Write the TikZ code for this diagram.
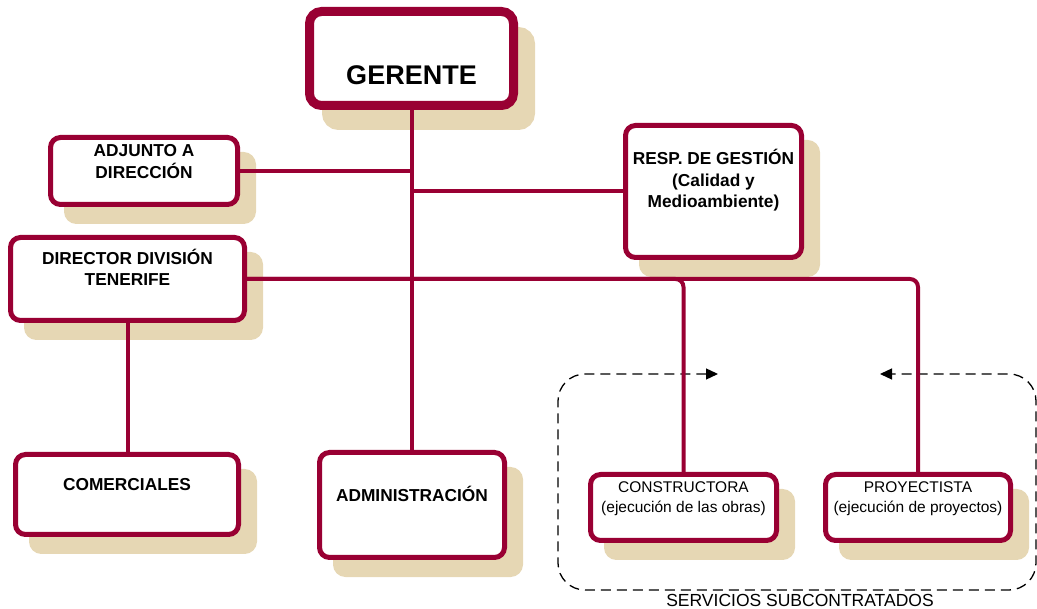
\documentclass[tikz,border=0pt]{standalone}
\usepackage{fontspec}
\setmainfont{Liberation Sans}
\usetikzlibrary{shadows,arrows.meta}
\definecolor{crim}{HTML}{990033}
\definecolor{shad}{HTML}{E6D7B4}
\newcommand{\boxtext}[4]{\parbox[c][#2pt][t]{#1pt}{\centering\rule{0pt}{#3pt}#4\par}}
\begin{document}
\begin{tikzpicture}[x=1pt,y=-1pt,
  box/.style={draw=crim, line width=5pt, rounded corners=10pt, fill=white, inner sep=0pt,
    font=\fontsize{17.3}{21.5}\selectfont\bfseries,
    general shadow={fill=shad, draw=shad, line width=5pt, rounded corners=10pt, shadow xshift=16pt, shadow yshift=-17pt}},
  bigbox/.style={draw=crim, line width=9pt, rounded corners=12pt, fill=white, inner sep=0pt,
    font=\fontsize{27}{30}\selectfont\bfseries,
    general shadow={fill=shad, draw=shad, line width=9pt, rounded corners=12pt, shadow xshift=17pt, shadow yshift=-20pt}},
  smallbox/.style={box, font=\fontsize{15.5}{20}\selectfont},
  conn/.style={draw=crim, line width=4pt},
  subc/.style={dash pattern=on 10pt off 6pt, line width=1.3pt, rounded corners=27pt}
]
\useasboundingbox (0,0) rectangle (1037,609);

% subcontracted services frame
\coordinate (ta) at (718,374);
\coordinate (tb) at (880,374);
\draw[subc, {Triangle[length=12pt,width=11pt]}-{Triangle[length=12pt,width=11pt]}]
  (ta) -- (558,374) -- (558,590) -- (1036,590) -- (1036,374) -- (tb);
\node[anchor=base, font=\fontsize{17.5}{20}\selectfont] (lab) at (800,606) {SERVICIOS SUBCONTRATADOS};

% boxes
\node[bigbox] (ger) at (411.5,58.5) {\boxtext{204}{94}{73}{GERENTE}};
\node[box] (adj) at (144,171) {\boxtext{187}{67}{19.5}{ADJUNTO A\\DIRECCIÓN}};
\node[box] (dir) at (127.5,279) {\boxtext{234}{83}{27}{DIRECTOR DIVISIÓN\\TENERIFE}};
\node[box] (resp) at (713.5,191.5) {\boxtext{176}{132}{39.5}{RESP. DE GESTIÓN\\(Calidad y\\Medioambiente)}};
\node[box] (com) at (127,494.5) {\boxtext{223}{80}{36.5}{COMERCIALES}};
\node[box] (adm) at (412,505) {\boxtext{185}{105}{49}{ADMINISTRACIÓN}};
\node[smallbox] (cons) at (683.5,507.5) {\boxtext{186}{66}{18}{CONSTRUCTORA\\(ejecución de las obras)}};
\node[smallbox] (proy) at (918,507.5) {\boxtext{185}{66}{18}{PROYECTISTA\\(ejecución de proyectos)}};

% connectors
\draw[conn] (ger.south) -- (ger.south |- adm.north);
\draw[conn] (adj.east) -- (adj.east -| ger.south);
\draw[conn] (resp.west) -- (resp.west -| ger.south);
\draw[conn] (dir.south) -- (dir.south |- com.north);
\draw[conn, rounded corners=8pt] (dir.east) -| (cons.north);
\draw[conn, rounded corners=8pt] (dir.east) -| (proy.north);
\end{tikzpicture}
\end{document}
